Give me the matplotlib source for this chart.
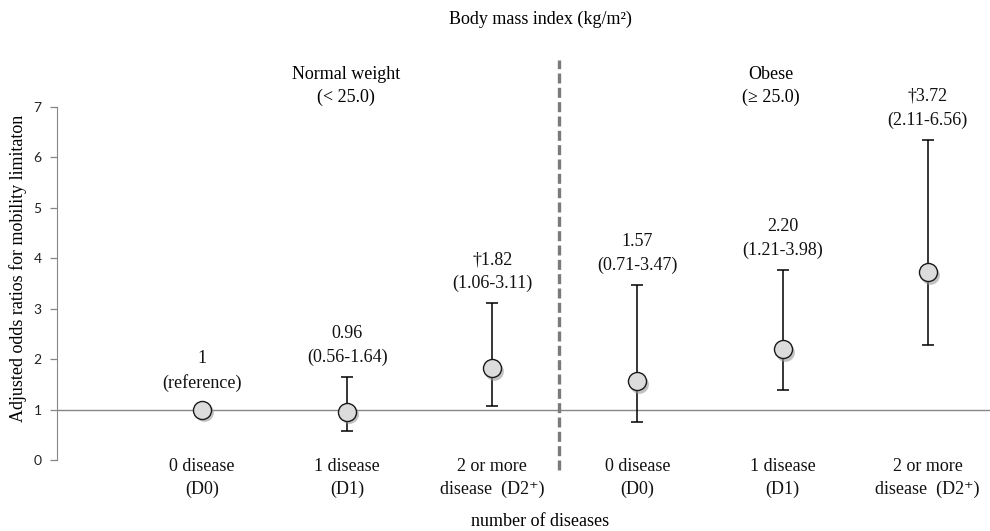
import matplotlib
matplotlib.use('Agg')
import matplotlib.pyplot as plt
import matplotlib.transforms as mtrans

# data
categories = ['0 disease\n(D0)', '1 disease\n(D1)', '2 or more\ndisease  (D2\u207a)',
              '0 disease\n(D0)', '1 disease\n(D1)', '2 or more\ndisease  (D2\u207a)']
odds = [1.00, 0.96, 1.82, 1.57, 2.20, 3.72]
lower = [1.00, 0.58, 1.08, 0.76, 1.39, 2.28]
upper = [1.00, 1.65, 3.11, 3.47, 3.76, 6.35]
labels = ['1\n(reference)', '0.96\n(0.56-1.64)', '\u20201.82\n(1.06-3.11)',
          '1.57\n(0.71-3.47)', '2.20\n(1.21-3.98)', '\u20203.72\n(2.11-6.56)']
group_names = ['Normal weight\n(< 25.0)', 'Obese\n(\u2265 25.0)']
yticks = [0, 1, 2, 3, 4, 5, 6, 7]

serif = ['Liberation Serif', 'DejaVu Serif']
sans = ['Lato', 'DejaVu Sans']
fs = 13

fig = plt.figure(figsize=(9.9, 5.31), dpi=100)
ax = fig.add_axes([57 / 990, 71 / 531, 933 / 990, 353 / 531])

x = list(range(len(odds)))
ax.set_xlim(-1, 5.43)
ax.set_ylim(0, 7)

# reference line at 1 (the horizontal axis crosses here)
ax.axhline(1, color='#868686', lw=1.0, zorder=1)

# group divider
ax.plot([2.46, 2.46], [-0.2, 7.94], color='#7a7a7a', lw=2.4,
        dashes=(3.0, 1.3), clip_on=False, zorder=1)

# error bars
yerr = [[o - l for o, l in zip(odds, lower)], [u - o for o, u in zip(odds, upper)]]
ax.errorbar(x, odds, yerr=yerr, fmt='none', ecolor='black', elinewidth=1.1,
            capsize=4.5, capthick=1.1, zorder=2)

# marker shadow + markers
shadow = mtrans.offset_copy(ax.transData, fig=fig, x=1.5, y=-2, units='points')
ax.plot(x, odds, 'o', ms=13.5, color='#9a9a9a', alpha=0.6, mec='none',
        transform=shadow, zorder=3)
ax.plot(x, odds, 'o', ms=13, mfc='#dcdcdc', mec='#1a1a1a', mew=1.0, zorder=4)

# value annotations
for xi, top, txt in zip(x, upper, labels):
    off = 13 if xi == 0 else 8
    ax.annotate(txt, (xi, top), xytext=(0, off), textcoords='offset points',
                ha='center', va='bottom', fontsize=fs, family=serif,
                linespacing=1.5, color='#111111')

# group headers
ax.text(0.99, 7.42, group_names[0], ha='center', va='center', fontsize=fs,
        family=serif, linespacing=1.4, clip_on=False)
ax.text(3.92, 7.42, group_names[1], ha='center', va='center', fontsize=fs,
        family=serif, linespacing=1.4, clip_on=False)

# category labels below the axis
for xi, cat in zip(x, categories):
    ax.text(xi, 0.03, cat, ha='center', va='top', fontsize=fs, family=serif,
            linespacing=1.4, color='#111111')

# axes styling
for s in ['top', 'right', 'bottom']:
    ax.spines[s].set_visible(False)
ax.spines['left'].set_color('#868686')
ax.spines['left'].set_bounds(0, 7)
ax.set_xticks([])
ax.set_yticks(yticks)
ax.set_yticklabels([str(t) for t in yticks], family=sans, fontsize=10,
                   color='#222222')
ax.tick_params(axis='y', length=5, width=0.9, color='#868686', pad=6)

fig.text(540 / 990, 1 - 19 / 531, 'Body mass index (kg/m\u00b2)', ha='center',
         va='center', fontsize=fs, family=serif)
fig.text(540 / 990, 1 - 521 / 531, 'number of diseases', ha='center',
         va='center', fontsize=fs, family=serif)
fig.text(18 / 990, 1 - 268 / 531, 'Adjusted odds ratios for mobility limitaton',
         ha='center', va='center', rotation=90, fontsize=fs, family=serif)

fig.savefig('out.png', dpi=100)
